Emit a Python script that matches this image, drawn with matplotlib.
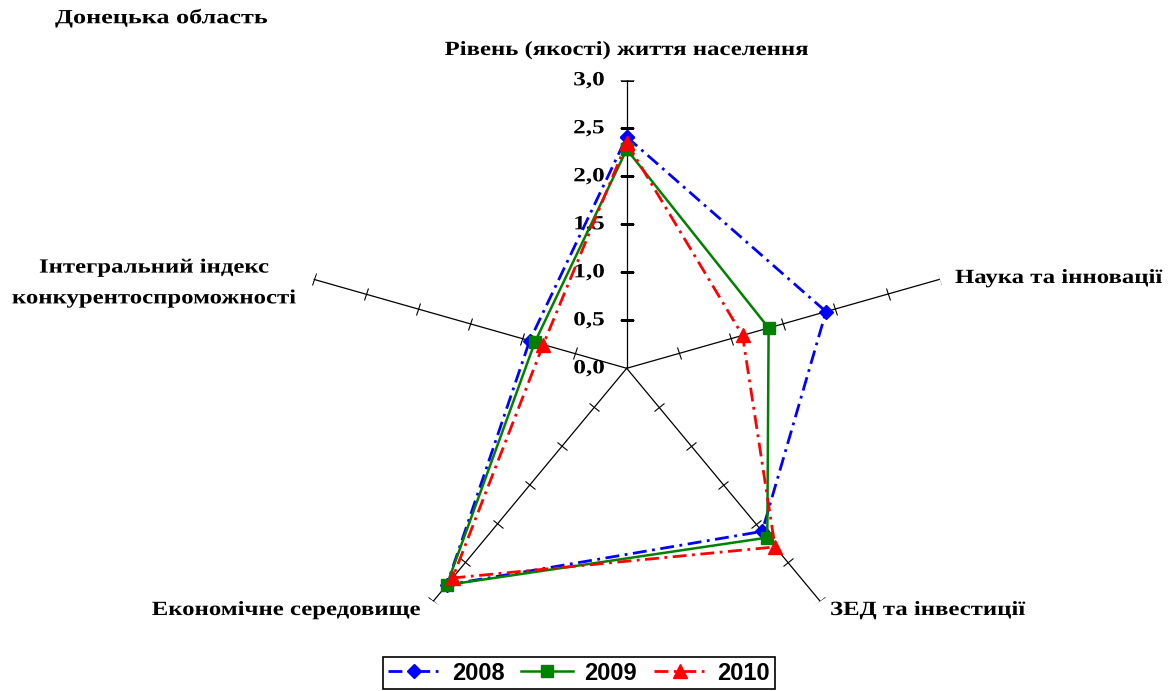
import numpy as np
import matplotlib
matplotlib.use('Agg')
import matplotlib.pyplot as plt
from matplotlib.markers import MarkerStyle
from matplotlib.transforms import Affine2D
from matplotlib.patheffects import AbstractPathEffect

# ---------------- data ----------------
title = 'Донецька область'
categories = ['Рівень (якості) життя населення',
              'Наука та інновації',
              'ЗЕД та інвестиції',
              'Економічне середовище',
              'Інтегральний індекс\nконкурентоспроможності']
years = ['2008', '2009', '2010']
v2008 = [2.41, 1.91, 2.10, 2.79, 0.93]
v2009 = [2.28, 1.36, 2.18, 2.79, 0.88]
v2010 = [2.35, 1.11, 2.30, 2.70, 0.80]
r_ticks = [0.0, 0.5, 1.0, 1.5, 2.0, 2.5, 3.0]
r_tick_labels = ['0,0', '0,5', '1,0', '1,5', '2,0', '2,5', '3,0']


class HStretch(AbstractPathEffect):
    """Stretch text horizontally about a fraction of its own width."""
    def __init__(self, sx, frac=0.0):
        super().__init__()
        self.sx = sx
        self.frac = frac

    def draw_path(self, renderer, gc, tpath, affine, rgbFace=None):
        v = affine.transform(tpath.vertices)
        if len(v):
            x0 = v[:, 0].min() + self.frac * (v[:, 0].max() - v[:, 0].min())
        else:
            x0 = 0
        new = affine + Affine2D().translate(-x0, 0).scale(self.sx, 1).translate(x0, 0)
        renderer.draw_path(gc, tpath, new, rgbFace)


# ---------------- figure ----------------
W, H = 1174, 691
fig = plt.figure(figsize=(W / 100, H / 100), dpi=100)
serif = 'Liberation Serif'
sans = 'Liberation Sans'

cx, cy = 626.7, 368.3          # centre in pixels
ry = 288.0                      # radius (vertical) in px
rx = ry * 1.143                 # radius (horizontal) in px
rect = [(cx - rx) / W, (H - cy - ry) / H, 2 * rx / W, 2 * ry / H]
ax = fig.add_axes(rect, projection='polar')
ax.set_theta_offset(np.pi / 2)
ax.set_theta_direction(-1)
ax.set_ylim(0, 3)
ax.set_aspect('auto')
ax.grid(False)
ax.spines['polar'].set_visible(False)
ax.set_xticks([])
ax.set_yticks([])
ax.patch.set_alpha(0)

n = len(categories)
angles = np.arange(n) * 2 * np.pi / n

# spokes and tick marks
for th in angles:
    ax.plot([th, th], [0, r_ticks[-1]], color='black', lw=0.9, zorder=2)
    dx = np.sin(th) * rx
    dy = np.cos(th) * ry
    ang = np.degrees(np.arctan2(dy, dx))
    m = MarkerStyle('_', transform=Affine2D().rotate_deg(ang + 90))
    ax.plot([th] * (len(r_ticks) - 1), r_ticks[1:], linestyle='none',
            marker=m, markersize=9.5, markeredgewidth=0.8,
            color='black', zorder=2)

# value labels on top spoke
for r, lbl in zip(r_ticks, r_tick_labels):
    ax.annotate(lbl, xy=(0, r), xytext=(-16, 0), textcoords='offset points',
                ha='right', va='center', fontsize=14.5, fontweight='bold',
                family=serif, zorder=1, annotation_clip=False,
                path_effects=[HStretch(1.25, 1.0)])

ang_closed = np.append(angles, angles[0])
styles = [
    dict(color='#0000FF', lw=2.0, ls=(0, (5, 2, 1, 2)), marker='D', ms=7.5),
    dict(color='#008000', lw=1.8, ls='-', marker='s', ms=8.5),
    dict(color='#FF0000', lw=2.0, ls=(0, (5, 2, 1, 2)), marker='^', ms=10),
]
handles = []
for i, (vals, st, yr) in enumerate(zip([v2008, v2009, v2010], styles, years)):
    vv = np.append(vals, vals[0])
    h, = ax.plot(ang_closed, vv, color=st['color'], lw=st['lw'],
                 linestyle=st['ls'], marker=st['marker'],
                 markersize=st['ms'], markerfacecolor=st['color'],
                 markeredgecolor=st['color'], zorder=4 + i,
                 clip_on=False, label=yr)
    handles.append(h)

# ---------------- texts ----------------
def ftext(x, y, s, sx=1.23, frac=0.0, **kw):
    fig.text(x / W, 1 - y / H, s, family=serif, fontweight='bold',
             path_effects=[HStretch(sx, frac)], **kw)

ftext(55, 18, title, sx=1.3, frac=0.0, ha='left', va='center', fontsize=14.5)
ftext(626.5, 50, categories[0], frac=0.5, ha='center', va='center', fontsize=14.5)
ftext(955, 278, categories[1], frac=0.0, ha='left', va='center', fontsize=14.5)
ftext(830, 610, categories[2], frac=0.0, ha='left', va='center', fontsize=14.5)
ftext(420, 610, categories[3], frac=1.0, ha='right', va='center', fontsize=14.5)
ftext(154, 283, categories[4], frac=0.5, ha='center', va='center', fontsize=14.5,
      multialignment='center', linespacing=1.72)

leg = fig.legend(handles=handles, labels=years, loc='center',
                 bbox_to_anchor=(579 / W, 1 - 673 / H), ncol=3,
                 prop=dict(family=sans, weight='bold', size=17),
                 frameon=True, fancybox=False, edgecolor='black',
                 framealpha=1, handlelength=2.2, handletextpad=0.5,
                 columnspacing=0.7, borderpad=0.2)
leg.get_frame().set_linewidth(1.2)

fig.savefig('out.png', dpi=100)
